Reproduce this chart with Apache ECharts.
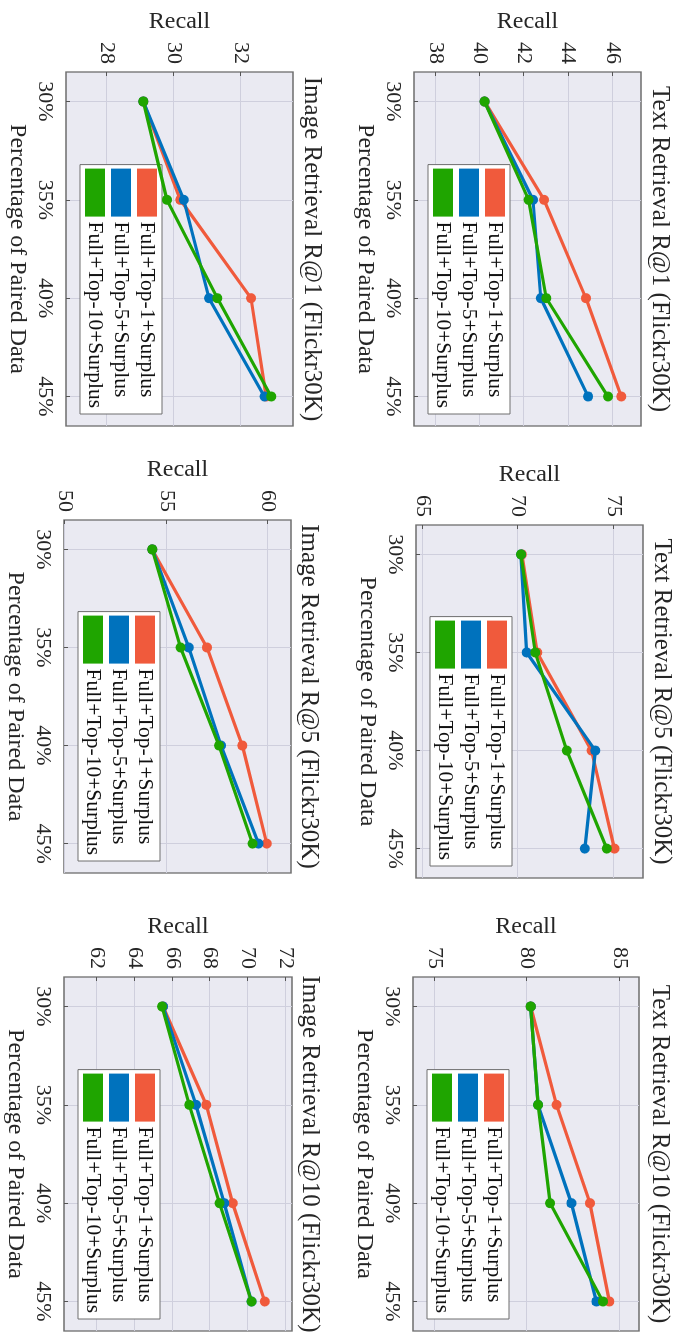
<!DOCTYPE html>
<html>
<head>
<meta charset="utf-8">
<script src="https://cdn.jsdelivr.net/npm/echarts@6.0.0/dist/echarts.min.js"></script>
<style>
html, body { margin: 0; padding: 0; width: 676px; height: 1333px; overflow: hidden; background: #ffffff; }
#wrap { position: absolute; left: 0; top: 0; width: 1333px; height: 676px; transform-origin: 0 0; transform: translateX(676px) rotate(90deg); }
#chart { width: 1333px; height: 676px; }
</style>
</head>
<body>
<div id="wrap"><div id="chart"></div></div>
<script>
// ---- data ----
const percentages = [30, 35, 40, 45];
const seriesNames = ['Full+Top-1+Surplus', 'Full+Top-5+Surplus', 'Full+Top-10+Surplus'];

const textR1Top1  = [40.2, 42.9, 44.8, 46.4];
const textR1Top5  = [40.2, 42.4, 42.75, 44.9];
const textR1Top10 = [40.2, 42.2, 43.0, 45.8];
const textR1Ticks = [38, 40, 42, 44, 46];

const textR5Top1  = [70.2, 71.0, 73.85, 75.05];
const textR5Top5  = [70.15, 70.45, 74.05, 73.5];
const textR5Top10 = [70.15, 70.9, 72.55, 74.65];
const textR5Ticks = [65, 70, 75];

const textR10Top1  = [80.2, 81.6, 83.4, 84.45];
const textR10Top5  = [80.2, 80.6, 82.4, 83.75];
const textR10Top10 = [80.2, 80.6, 81.25, 84.1];
const textR10Ticks = [75, 80, 85];

const imageR1Top1  = [29.1, 30.2, 32.3, 32.75];
const imageR1Top5  = [29.1, 30.3, 31.05, 32.7];
const imageR1Top10 = [29.1, 29.8, 31.3, 32.9];
const imageR1Ticks = [28, 30, 32];

const imageR5Top1  = [54.3, 57.0, 58.75, 59.95];
const imageR5Top5  = [54.3, 56.1, 57.7, 59.55];
const imageR5Top10 = [54.3, 55.7, 57.6, 59.25];
const imageR5Ticks = [50, 55, 60];

const imageR10Top1  = [65.5, 67.8, 69.2, 70.9];
const imageR10Top5  = [65.5, 67.25, 68.75, 70.2];
const imageR10Top10 = [65.45, 66.9, 68.5, 70.2];
const imageR10Ticks = [62, 64, 66, 68, 70, 72];

const titles = [
  'Text Retrieval R@1 (Flickr30K)', 'Text Retrieval R@5 (Flickr30K)', 'Text Retrieval R@10 (Flickr30K)',
  'Image Retrieval R@1 (Flickr30K)', 'Image Retrieval R@5 (Flickr30K)', 'Image Retrieval R@10 (Flickr30K)'
];

// ---- layout / style ----
const W = 1333, H = 676;
const FONT = "'Liberation Serif', 'Times New Roman', serif";
const colors = ['#F05A3C', '#0072BD', '#1FA500'];
const panels = [
  { values: [textR1Top1, textR1Top5, textR1Top10], ticks: textR1Ticks, min: 37.0, max: 47.3,
    grid: { left: 72, top: 35, width: 354, height: 227 }, titleTop: 4 },
  { values: [textR5Top1, textR5Top5, textR5Top10], ticks: textR5Ticks, min: 64.65, max: 76.55,
    grid: { left: 525, top: 33, width: 353, height: 227 }, titleTop: 2 },
  { values: [textR10Top1, textR10Top5, textR10Top10], ticks: textR10Ticks, min: 73.85, max: 86.05,
    grid: { left: 977, top: 37, width: 354, height: 226 }, titleTop: 4 },
  { values: [imageR1Top1, imageR1Top5, imageR1Top10], ticks: imageR1Ticks, min: 26.8, max: 33.55,
    grid: { left: 72, top: 383, width: 354, height: 227 }, titleTop: 352 },
  { values: [imageR5Top1, imageR5Top5, imageR5Top10], ticks: imageR5Ticks, min: 49.95, max: 61.15,
    grid: { left: 520, top: 385, width: 353, height: 227 }, titleTop: 355 },
  { values: [imageR10Top1, imageR10Top5, imageR10Top10], ticks: imageR10Ticks, min: 60.25, max: 72.35,
    grid: { left: 977, top: 384, width: 354, height: 228 }, titleTop: 354 }
];

const option = {
  animation: false,
  backgroundColor: '#ffffff',
  title: [], grid: [], xAxis: [], yAxis: [], legend: [], series: []
};

panels.forEach((p, i) => {
  const g = p.grid;
  option.title.push({
    text: titles[i], left: g.left + g.width / 2, top: p.titleTop, textAlign: 'center', padding: 0,
    textStyle: { fontFamily: FONT, fontSize: 25, fontWeight: 'normal', color: '#262626' }
  });
  option.grid.push({
    left: g.left, top: g.top, width: g.width, height: g.height, show: true,
    backgroundColor: '#EAEAF2', borderColor: '#6e6e6e', borderWidth: 1.3, containLabel: false
  });
  option.xAxis.push({
    type: 'value', gridIndex: i, min: 28.5, max: 46.5,
    name: 'Percentage of Paired Data', nameLocation: 'middle', nameGap: 37,
    nameTextStyle: { fontFamily: FONT, fontSize: 24, color: '#262626' },
    axisLine: { show: false },
    axisTick: { show: true, inside: true, length: 4, customValues: percentages, lineStyle: { color: '#555' } },
    axisLabel: { customValues: percentages, formatter: '{value}%', margin: 10,
      fontFamily: FONT, fontSize: 22, color: '#262626' },
    splitLine: { show: true, lineStyle: { color: '#CFCFDD', width: 1 } }
  });
  option.yAxis.push({
    type: 'value', gridIndex: i, min: p.min, max: p.max,
    name: 'Recall', nameLocation: 'middle', nameGap: 38,
    nameTextStyle: { fontFamily: FONT, fontSize: 24, color: '#262626' },
    axisLine: { show: false },
    axisTick: { show: true, inside: true, length: 4, customValues: p.ticks, lineStyle: { color: '#555' } },
    axisLabel: { customValues: p.ticks, margin: 8, fontFamily: FONT, fontSize: 22, color: '#262626' },
    splitLine: { show: true, lineStyle: { color: '#CFCFDD', width: 1 } }
  });
  option.legend.push({
    data: seriesNames, orient: 'vertical', selectedMode: false,
    right: W - (g.left + g.width - 12), bottom: H - (g.top + g.height - 14),
    icon: 'rect', itemWidth: 48, itemHeight: 20, itemGap: 4,
    padding: [4, 6, 4, 4], backgroundColor: '#ffffff', borderColor: '#6e6e6e', borderWidth: 1,
    itemStyle: { borderWidth: 0 },
    textStyle: { fontFamily: FONT, fontSize: 21.5, color: '#111111' }
  });
  p.values.forEach((vals, s) => {
    option.series.push({
      type: 'line', name: seriesNames[s], xAxisIndex: i, yAxisIndex: i,
      data: percentages.map((x, k) => [x, vals[k]]),
      symbol: 'circle', symbolSize: 10, showSymbol: true,
      lineStyle: { width: 3.2, color: colors[s] },
      itemStyle: { color: colors[s] },
      z: 2 + s
    });
  });
});

const chart = echarts.init(document.getElementById('chart'), null, { width: W, height: H });
chart.setOption(option);
</script>
</body>
</html>
